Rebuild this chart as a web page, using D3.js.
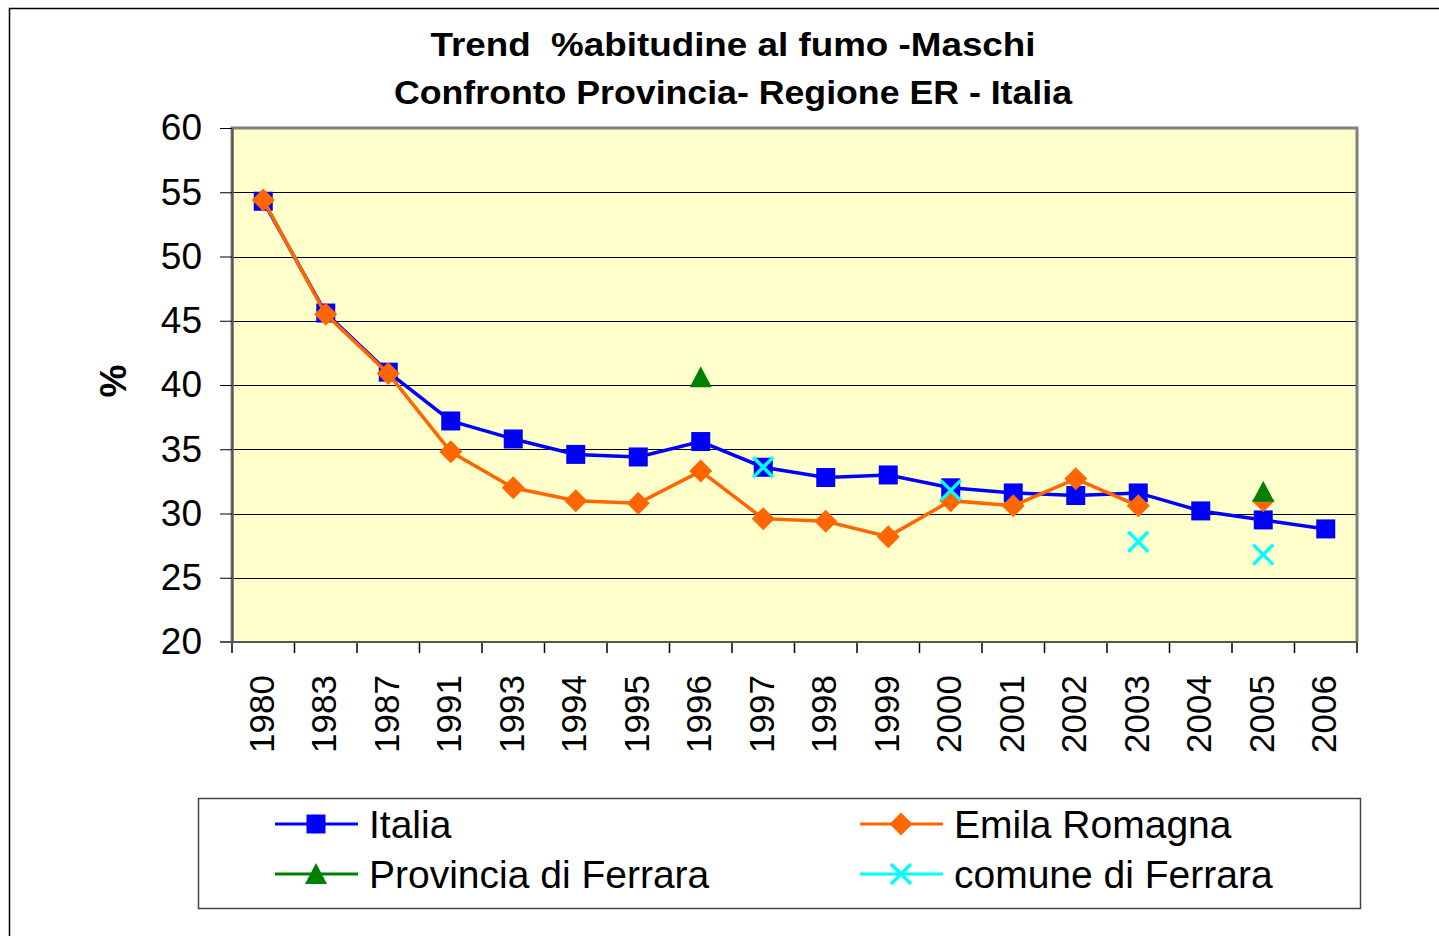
<!DOCTYPE html>
<html>
<head>
<meta charset="utf-8">
<script src="https://cdn.jsdelivr.net/npm/d3@7"></script>
<style>
  body { margin: 0; background: #fff; }
  svg { display: block; font-family: "Liberation Sans", Arial, sans-serif; }
  .title { white-space: pre; }
</style>
</head>
<body>
<svg id="canvas" width="1439" height="936"></svg>
<script>
const years = ["1980", "1983", "1987", "1991", "1993", "1994", "1995", "1996", "1997", "1998", "1999", "2000", "2001", "2002", "2003", "2004", "2005", "2006"];

const italia = [54.3, 45.6, 41.0, 37.2, 35.8, 34.6, 34.4, 35.6, 33.6, 32.8, 33.0, 32.0, 31.6, 31.4, 31.6, 30.2, 29.5, 28.8];
const emilia = [54.4, 45.5, 40.9, 34.8, 32.0, 31.0, 30.8, 33.3, 29.6, 29.4, 28.2, 31.0, 30.6, 32.7, 30.6, null, 31.0, null];
const provincia = [null, null, null, null, null, null, null, 40.6, null, null, null, null, null, null, null, null, 31.7, null];
const comune = [null, null, null, null, null, null, null, null, 33.6, null, null, 31.8, null, null, 27.8, null, 26.8, null];

const yTicks = [20, 25, 30, 35, 40, 45, 50, 55, 60];

const titleLines = ["Trend  %abitudine al fumo -Maschi", "Confronto Provincia- Regione ER - Italia"];

const series = [
  { name: "Italia", values: italia, color: "#0000ff", symbol: "square" },
  { name: "Emila Romagna", values: emilia, color: "#ff6600", symbol: "diamond" },
  { name: "Provincia di Ferrara", values: provincia, color: "#008000", symbol: "triangle" },
  { name: "comune di Ferrara", values: comune, color: "#00ffff", symbol: "cross" }
];

const canvas = d3.select("#canvas");

const plotLeft = 232, plotRight = 1357, plotTop = 128, plotBottom = 642;

const x = d3.scaleBand().domain(years).range([plotLeft, plotRight]);
const y = d3.scaleLinear().domain([20, 60]).range([plotBottom, plotTop]);

// outer chart frame
canvas.append("rect")
  .attr("x", 9.5).attr("y", 8.5)
  .attr("width", 1460).attr("height", 960)
  .attr("fill", "#fff").attr("stroke", "#000").attr("stroke-width", 1.5);

// titles
const titleWidths = [605, 678];
canvas.selectAll("text.title")
  .data(titleLines)
  .enter()
  .append("text")
  .attr("class", "title")
  .attr("x", 733)
  .attr("y", (d, i) => 56 + i * 48)
  .attr("text-anchor", "middle")
  .attr("font-size", 34)
  .attr("font-weight", "bold")
  .attr("textLength", (d, i) => titleWidths[i])
  .attr("lengthAdjust", "spacingAndGlyphs")
  .text(d => d);

// plot background
canvas.append("rect")
  .attr("x", plotLeft).attr("y", plotTop)
  .attr("width", plotRight - plotLeft).attr("height", plotBottom - plotTop)
  .attr("fill", "#ffffcc");

// gridlines
canvas.append("g")
  .selectAll("line")
  .data(yTicks.slice(1, -1))
  .enter()
  .append("line")
  .attr("x1", plotLeft).attr("x2", plotRight)
  .attr("y1", d => Math.round(y(d)) + 0.5).attr("y2", d => Math.round(y(d)) + 0.5)
  .attr("stroke", "#000").attr("stroke-width", 1);

// plot border (grey, like excel)
canvas.append("path")
  .attr("d", `M${plotLeft},${plotBottom} V${plotTop} H${plotRight} V${plotBottom}`)
  .attr("fill", "none").attr("stroke", "#808080").attr("stroke-width", 3);

// y axis
const yAxis = d3.axisLeft(y).tickValues(yTicks).tickSize(12).tickPadding(18).tickSizeOuter(0);
const gy = canvas.append("g")
  .attr("transform", `translate(${plotLeft},0)`)
  .call(yAxis);
gy.select(".domain").attr("stroke", "#555").attr("stroke-width", 2);
gy.selectAll(".tick line").attr("stroke", "#000");
gy.selectAll("text").attr("font-size", 37).attr("font-family", "Liberation Sans, Arial, sans-serif").attr("fill", "#000");

// x axis ticks at band boundaries
const bounds = years.map(d => x(d)).concat([plotRight]);
canvas.append("g")
  .selectAll("line")
  .data(bounds)
  .enter()
  .append("line")
  .attr("x1", d => d).attr("x2", d => d)
  .attr("y1", plotBottom).attr("y2", plotBottom + 11)
  .attr("stroke", "#000").attr("stroke-width", 1.5);
canvas.append("line")
  .attr("x1", plotLeft - 12).attr("x2", plotRight)
  .attr("y1", plotBottom).attr("y2", plotBottom)
  .attr("stroke", "#555").attr("stroke-width", 2);

canvas.append("g")
  .selectAll("text")
  .data(years)
  .enter()
  .append("text")
  .attr("transform", d => `translate(${x(d) + x.bandwidth() / 2 - 2},675) rotate(-90)`)
  .attr("text-anchor", "end")
  .attr("dy", "0.35em")
  .attr("font-size", 35)
  .text(d => d);

// y label
canvas.append("text")
  .attr("transform", "translate(113,381) rotate(-90)")
  .attr("text-anchor", "middle")
  .attr("dy", "0.35em")
  .attr("font-size", 37)
  .attr("font-weight", "bold")
  .text("%");

const cx = i => x(years[i]) + x.bandwidth() / 2;

const drawMarker = (g, s, px, py) => {
  if (s.symbol === "square") {
    g.append("rect").attr("x", px - 9.5).attr("y", py - 9.5).attr("width", 19).attr("height", 19).attr("fill", s.color);
  } else if (s.symbol === "diamond") {
    g.append("path").attr("d", `M${px},${py - 11.5} L${px + 11.5},${py} L${px},${py + 11.5} L${px - 11.5},${py} Z`).attr("fill", s.color);
  } else if (s.symbol === "triangle") {
    g.append("path").attr("d", `M${px},${py - 11} L${px + 11},${py + 10} L${px - 11},${py + 10} Z`).attr("fill", s.color);
  } else {
    g.append("path").attr("d", `M${px - 10},${py - 10} L${px + 10},${py + 10} M${px + 10},${py - 10} L${px - 10},${py + 10}`)
      .attr("stroke", s.color).attr("stroke-width", 3.5).attr("fill", "none");
  }
};

const line = d3.line()
  .defined(d => d.v !== null)
  .x(d => cx(d.i))
  .y(d => y(d.v));

series.forEach(s => {
  const pts = s.values.map((v, i) => ({ v: v, i: i }));
  canvas.append("path")
    .datum(pts)
    .attr("d", line)
    .attr("fill", "none")
    .attr("stroke", s.color)
    .attr("stroke-width", 3.5);
  const g = canvas.append("g");
  pts.filter(d => d.v !== null).forEach(d => drawMarker(g, s, cx(d.i), y(d.v)));
});

// legend
canvas.append("rect")
  .attr("x", 198.5).attr("y", 798.5)
  .attr("width", 1162).attr("height", 110)
  .attr("fill", "#fff").attr("stroke", "#444").attr("stroke-width", 1.5);

const legendPos = [[275, 824], [860, 824], [275, 874], [860, 874]];
series.forEach((s, i) => {
  const [lx, ly] = legendPos[i];
  const g = canvas.append("g");
  g.append("line").attr("x1", lx).attr("x2", lx + 83).attr("y1", ly).attr("y2", ly)
    .attr("stroke", s.color).attr("stroke-width", 3);
  drawMarker(g, s, lx + 41, ly);
  g.append("text")
    .attr("x", lx + 94).attr("y", ly)
    .attr("dy", "0.35em")
    .attr("font-size", 39)
    .text(s.name);
});
</script>
</body>
</html>
